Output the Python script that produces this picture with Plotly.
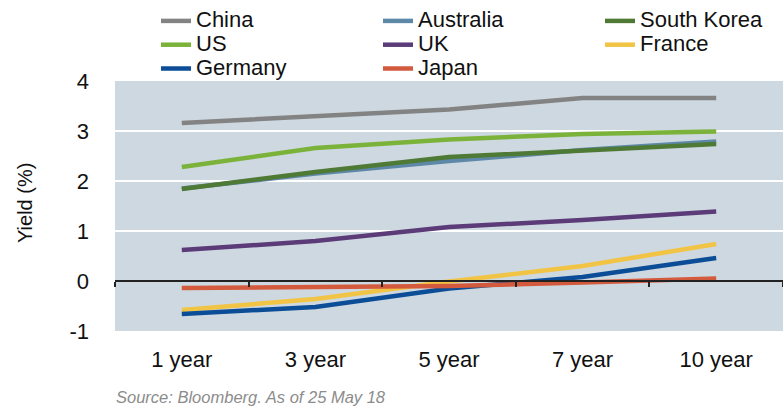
import plotly.graph_objects as go

categories = ["1 year", "3 year", "5 year", "7 year", "10 year"]
china = [3.16, 3.30, 3.43, 3.66, 3.66]
australia = [1.85, 2.15, 2.40, 2.62, 2.79]
south_korea = [1.84, 2.18, 2.48, 2.60, 2.74]
us = [2.28, 2.66, 2.83, 2.94, 2.99]
uk = [0.62, 0.80, 1.08, 1.22, 1.39]
france = [-0.58, -0.36, -0.01, 0.30, 0.74]
germany = [-0.66, -0.52, -0.15, 0.08, 0.46]
japan = [-0.14, -0.13, -0.10, -0.03, 0.05]
y_ticks = [-1, 0, 1, 2, 3, 4]
y_tick_labels = ["-1", "0", "1", "2", "3", "4"]

series = [
    ("China", china, "#838383"),
    ("Australia", australia, "#5E88A8"),
    ("South Korea", south_korea, "#4F7A36"),
    ("US", us, "#7BB33A"),
    ("UK", uk, "#5B3B78"),
    ("France", france, "#F2C446"),
    ("Germany", germany, "#0B4D96"),
    ("Japan", japan, "#D35A3C"),
]

xpos = list(range(len(categories)))
FONT = "Liberation Sans Narrow, Arial Narrow, Liberation Sans, Arial, sans-serif"

L, R, T, B, W, H = 115, 0, 81, 77, 783, 408
PW, PH = W - L - R, H - T - B


def px_x(px):
    return (px - L) / PW


def px_y(py):
    return (H - B - py) / PH


fig = go.Figure()
for name, vals, col in series:
    fig.add_trace(go.Scatter(
        x=xpos, y=vals, mode="lines", line=dict(color=col, width=4.5),
        name='<span style="font-size:22px">%s</span>' % name,
        hovertemplate=name + ": %{y}<extra></extra>"))

bounds = [i - 0.5 for i in range(len(categories) + 1)]

fig.update_layout(
    width=W, height=H,
    margin=dict(l=L, r=R, t=T, b=B, autoexpand=False),
    paper_bgcolor="white",
    plot_bgcolor="#CED8E0",
    font=dict(family=FONT, size=20, color="#111"),
    showlegend=True,
    legend=dict(orientation="h", xref="container", yref="container",
                x=156 / W, y=1 - 4 / H, xanchor="left", yanchor="top",
                entrywidth=177, entrywidthmode="pixels",
                font=dict(family=FONT, size=16, color="#111"),
                bgcolor="rgba(0,0,0,0)", traceorder="normal",
                tracegroupgap=0, itemwidth=30),
    xaxis=dict(range=[-0.5, len(categories) - 0.5], tickvals=xpos,
               ticktext=categories, showgrid=False, zeroline=False,
               showline=False, ticks="", ticklabelstandoff=13,
               tickfont=dict(family=FONT, size=22, color="#111")),
    xaxis2=dict(matches="x", overlaying="x", anchor="free", position=0.2,
                side="bottom", showline=True, linecolor="#222", linewidth=1.5,
                ticks="outside", ticklen=5, tickcolor="#222", tickwidth=1.5,
                tickvals=bounds, showticklabels=False, showgrid=False,
                zeroline=False),
    yaxis=dict(range=[-1, 4], tickvals=y_ticks, ticktext=y_tick_labels,
               showgrid=True, gridcolor="white", gridwidth=2, zeroline=False,
               showline=False, ticks="", ticklabelstandoff=25,
               tickfont=dict(family=FONT, size=22, color="#111")),
)
fig.add_trace(go.Scatter(x=[0], y=[0], xaxis="x2", mode="markers",
                         marker=dict(opacity=0), showlegend=False,
                         hoverinfo="skip"))

fig.add_annotation(text="Yield (%)", textangle=-90, xref="paper",
                   yref="paper", x=px_x(25), y=px_y(203), showarrow=False,
                   xanchor="center", yanchor="middle",
                   font=dict(family=FONT, size=20, color="#111"))
fig.add_annotation(text="<i>Source: Bloomberg. As of 25 May 18</i>",
                   xref="paper", yref="paper", x=px_x(114),
                   y=px_y(397), xanchor="left", yanchor="middle",
                   showarrow=False,
                   font=dict(family=FONT, size=16.5, color="#8C8C8C"))

fig.write_html("out.html")
